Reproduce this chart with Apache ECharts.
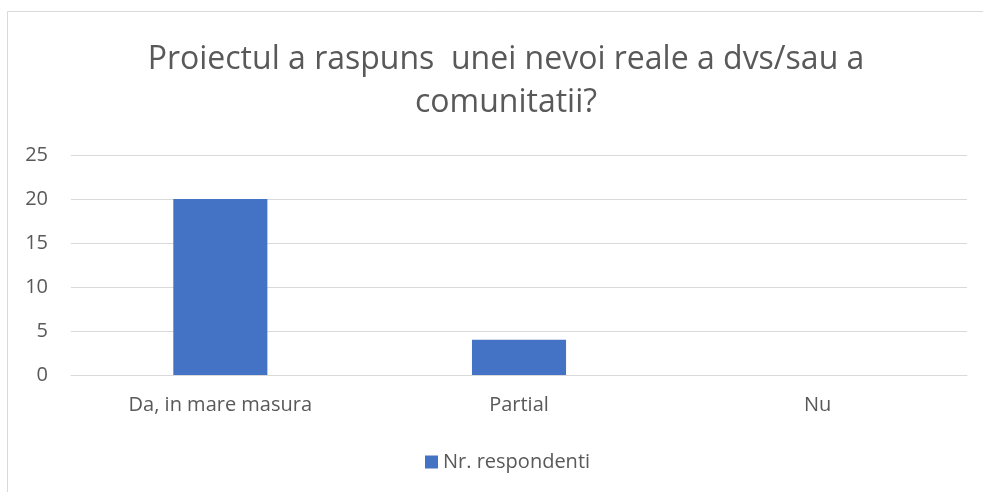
<!DOCTYPE html>
<html>
<head>
<meta charset="utf-8">
<script src="https://cdn.jsdelivr.net/npm/echarts@6/dist/echarts.min.js"></script>
<style>
  html, body { margin: 0; padding: 0; background: #fff; }
  #main { width: 983px; height: 492px; }
</style>
</head>
<body>
<div id="main"></div>
<script>
// date
var categories = ['Da, in mare masura', 'Partial', 'Nu'];
var respondenti = [20, 4, 0];
var yTicks = [0, 5, 10, 15, 20, 25];

var textColor = '#595959';
var fontName = 'Open Sans';

var myChart = echarts.init(document.getElementById('main'));
var option = {
    backgroundColor: '#fff',
    textStyle: { fontFamily: fontName },
    title: {
        text: 'Proiectul a raspuns  unei nevoi reale a dvs/sau a\ncomunitatii?',
        left: 501,
        top: 33,
        textAlign: 'center',
        textStyle: {
            fontFamily: fontName,
            fontSize: 32,
            fontWeight: 'normal',
            color: textColor,
            lineHeight: 43
        }
    },
    graphic: [{
        type: 'rect',
        shape: { x: 7.5, y: 11.5, width: 1000, height: 500 },
        style: { fill: 'none', stroke: '#d9d9d9', lineWidth: 1 },
        silent: true
    }],
    legend: {
        data: ['Nr. respondenti'],
        left: 420,
        top: 447,
        icon: 'rect',
        itemWidth: 13,
        itemHeight: 13,
        itemGap: 5,
        textStyle: { fontFamily: fontName, fontSize: 20, color: textColor }
    },
    grid: { left: 71, right: 16, top: 155, bottom: 117 },
    xAxis: {
        type: 'category',
        data: categories,
        axisLine: { lineStyle: { color: '#d9d9d9' } },
        axisTick: { show: false },
        axisLabel: { color: textColor, fontSize: 20, margin: 20, fontFamily: fontName }
    },
    yAxis: {
        type: 'value',
        min: yTicks[0],
        max: yTicks[yTicks.length - 1],
        interval: 5,
        axisLine: { show: false },
        axisTick: { show: false },
        axisLabel: { color: textColor, fontSize: 20, margin: 23, fontFamily: fontName },
        splitLine: { lineStyle: { color: '#d9d9d9', width: 1 } }
    },
    series: [{
        name: 'Nr. respondenti',
        type: 'bar',
        data: respondenti,
        barWidth: '31.5%',
        itemStyle: { color: '#4472c4' }
    }]
};
myChart.setOption(option);
</script>
</body>
</html>
